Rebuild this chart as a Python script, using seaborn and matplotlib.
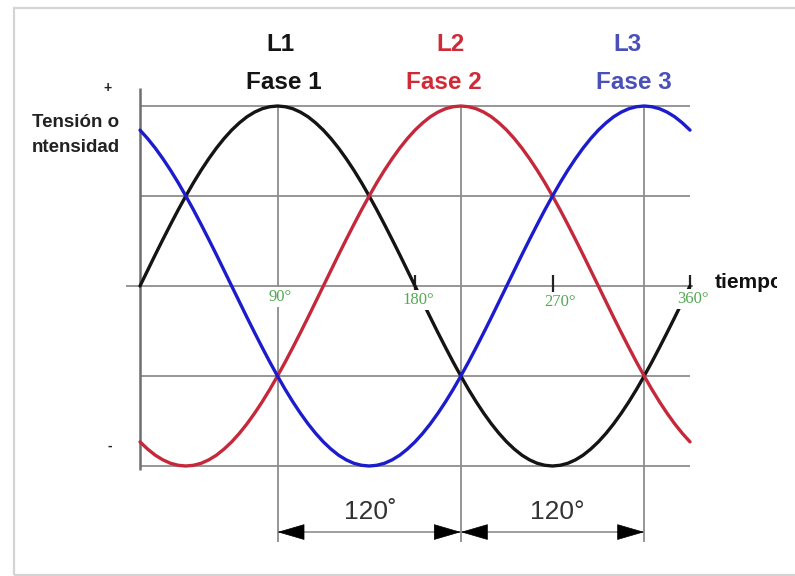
import numpy as np
import pandas as pd
import matplotlib
matplotlib.use("Agg")
import matplotlib.pyplot as plt
import seaborn as sns
from matplotlib.patches import Rectangle

# angle in degrees, values every 5 degrees
angles = list(range(0, 361, 5))
fase1 = [0, .087, .174, .259, .342, .423, .5, .574, .643, .707, .766, .819, .866, .906, .94, .966, .985, .996, 1,
         .996, .985, .966, .94, .906, .866, .819, .766, .707, .643, .574, .5, .423, .342, .259, .174, .087, 0,
         -.087, -.174, -.259, -.342, -.423, -.5, -.574, -.643, -.707, -.766, -.819, -.866, -.906, -.94, -.966,
         -.985, -.996, -1,
         -.996, -.985, -.966, -.94, -.906, -.866, -.819, -.766, -.707, -.643, -.574, -.5, -.423, -.342, -.259,
         -.174, -.087, 0]
fase2 = [-.866, -.906, -.94, -.966, -.985, -.996, -1,
         -.996, -.985, -.966, -.94, -.906, -.866, -.819, -.766, -.707, -.643, -.574, -.5, -.423, -.342, -.259,
         -.174, -.087, 0,
         .087, .174, .259, .342, .423, .5, .574, .643, .707, .766, .819, .866, .906, .94, .966, .985, .996, 1,
         .996, .985, .966, .94, .906, .866, .819, .766, .707, .643, .574, .5, .423, .342, .259, .174, .087, 0,
         -.087, -.174, -.259, -.342, -.423, -.5, -.574, -.643, -.707, -.766, -.819, -.866]
fase3 = [.866, .819, .766, .707, .643, .574, .5, .423, .342, .259, .174, .087, 0,
         -.087, -.174, -.259, -.342, -.423, -.5, -.574, -.643, -.707, -.766, -.819, -.866, -.906, -.94, -.966,
         -.985, -.996, -1,
         -.996, -.985, -.966, -.94, -.906, -.866, -.819, -.766, -.707, -.643, -.574, -.5, -.423, -.342, -.259,
         -.174, -.087, 0,
         .087, .174, .259, .342, .423, .5, .574, .643, .707, .766, .819, .866, .906, .94, .966, .985, .996, 1,
         .996, .985, .966, .94, .906, .866]

fases = ["L1", "L2", "L3"]
fase_labels = ["Fase 1", "Fase 2", "Fase 3"]
peaks = [90, 210, 330]
grid_levels = [1.0, 0.5, -0.5, -1.0]
degree_ticks = [90, 180, 270, 360]
degree_labels = ["90°", "180°", "270°", "360°"]
shift_labels = ["120˚", "120°"]

curve_colors = {"L1": "#141414", "L2": "#c4283a", "L3": "#1c1ccc"}
text_colors = ["#141414", "#d02a36", "#4a50b8"]


def get_df() -> pd.DataFrame:
    frames = []
    for name, vals in zip(fases, [fase1, fase2, fase3]):
        frames.append(pd.DataFrame({"angulo": angles, "valor": vals, "fase": name}))
    return pd.concat(frames, ignore_index=True)


def main():
    sns.set_theme(style="white")
    plt.rcParams["font.family"] = ["Liberation Sans", "DejaVu Sans"]

    fig = plt.figure(figsize=(7.95, 5.76), dpi=100)
    ax = fig.add_axes([0, 0, 1, 1])
    ax.axis("off")
    # pixel mapping: 0deg -> x=140, 360deg -> x=690, value 0 -> y=286, 1 unit = 180 px
    ax.set_xlim(-140 / 1.5278, 655 / 1.5278)
    ax.set_ylim(-290 / 180, 286 / 180)

    # frame of the picture
    fig.patches.append(Rectangle((14 / 795, 1 / 576), 1.0, 567 / 576, transform=fig.transFigure,
                                 fill=False, edgecolor="#d4d4d4", lw=1.6))

    grid_c = "#8e8e8e"
    ax.hlines(grid_levels, 0, 360, color=grid_c, lw=1.3, zorder=1)
    ax.hlines(0, -9, 362, color=grid_c, lw=1.3, zorder=1)
    ax.vlines(peaks, -1.42, 1.0, color=grid_c, lw=1.3, zorder=1)
    ax.vlines(0, -1.02, 1.10, color="#6e6e6e", lw=1.8, zorder=1)
    ax.vlines(degree_ticks[1:], -0.035, 0.06, color="#222222", lw=1.6, zorder=1)

    df = get_df()
    sns.lineplot(data=df, x="angulo", y="valor", hue="fase", palette=curve_colors,
                 linewidth=2.4, legend=False, ax=ax, zorder=3)

    # phase titles
    title_x = [92, 203, 319]
    sub_x = [94, 199, 323]
    for i in range(3):
        ax.text(title_x[i], 1.339, fases[i], color=text_colors[i], fontsize=17.5,
                fontweight="bold", ha="center", va="center")
        ax.text(sub_x[i], 1.133, fase_labels[i], color=text_colors[i], fontsize=17.5,
                fontweight="bold", ha="center", va="center")

    # y axis labels
    ax.text(-21, 1.10, "+", fontsize=10, fontweight="bold", ha="center", va="center", color="#222222")
    ax.text(-20, -0.89, "-", fontsize=10, fontweight="bold", ha="center", va="center", color="#222222")
    ax.text(-70.7, 0.911, "Tensión o", fontsize=13.5, fontweight="bold", ha="left", va="center",
            color="#222222")
    ax.text(-70.7, 0.772, "ntensidad", fontsize=13.5, fontweight="bold", ha="left", va="center",
            color="#222222")

    # the word is cut at the right edge in the original
    t = ax.text(376.4, 0.017, "tiempo", fontsize=15, fontweight="bold", ha="left", va="center",
                color="#111111", clip_on=True)
    clip = Rectangle((0, 0), 777 / 795, 1, transform=fig.transFigure)
    t.set_clip_path(clip)

    # degree labels on the time axis
    lab_x = [91.6, 182, 275, 362]
    lab_y = [-0.061, -0.078, -0.089, -0.072]
    for x, y, s in zip(lab_x, lab_y, degree_labels):
        ax.text(x, y, s, fontsize=12, color="#55a855", family=["Liberation Serif", "DejaVu Serif"],
                ha="center", va="center", zorder=4,
                bbox=dict(boxstyle="square,pad=0.1", fc="white", ec="none"))

    # 120 degree dimension arrows
    arrow_y = -1.367
    head = 17
    ax.hlines(arrow_y, peaks[0], peaks[2], color="#8e8e8e", lw=1.2, zorder=2)
    for a, b in zip(peaks[:-1], peaks[1:]):
        for tip, base in [(a, a + head), (b, b - head)]:
            ax.annotate("", xy=(tip, arrow_y), xytext=(base, arrow_y),
                        arrowprops=dict(arrowstyle="-|>,head_length=1.3,head_width=0.38",
                                        mutation_scale=14, color="black", lw=0.5,
                                        shrinkA=0, shrinkB=0))
    for x, s in zip([150.5, 273], shift_labels):
        ax.text(x, -1.256, s, fontsize=19, color="#333333", ha="center", va="center")

    fig.savefig("out.png", dpi=100)


if __name__ == "__main__":
    main()
